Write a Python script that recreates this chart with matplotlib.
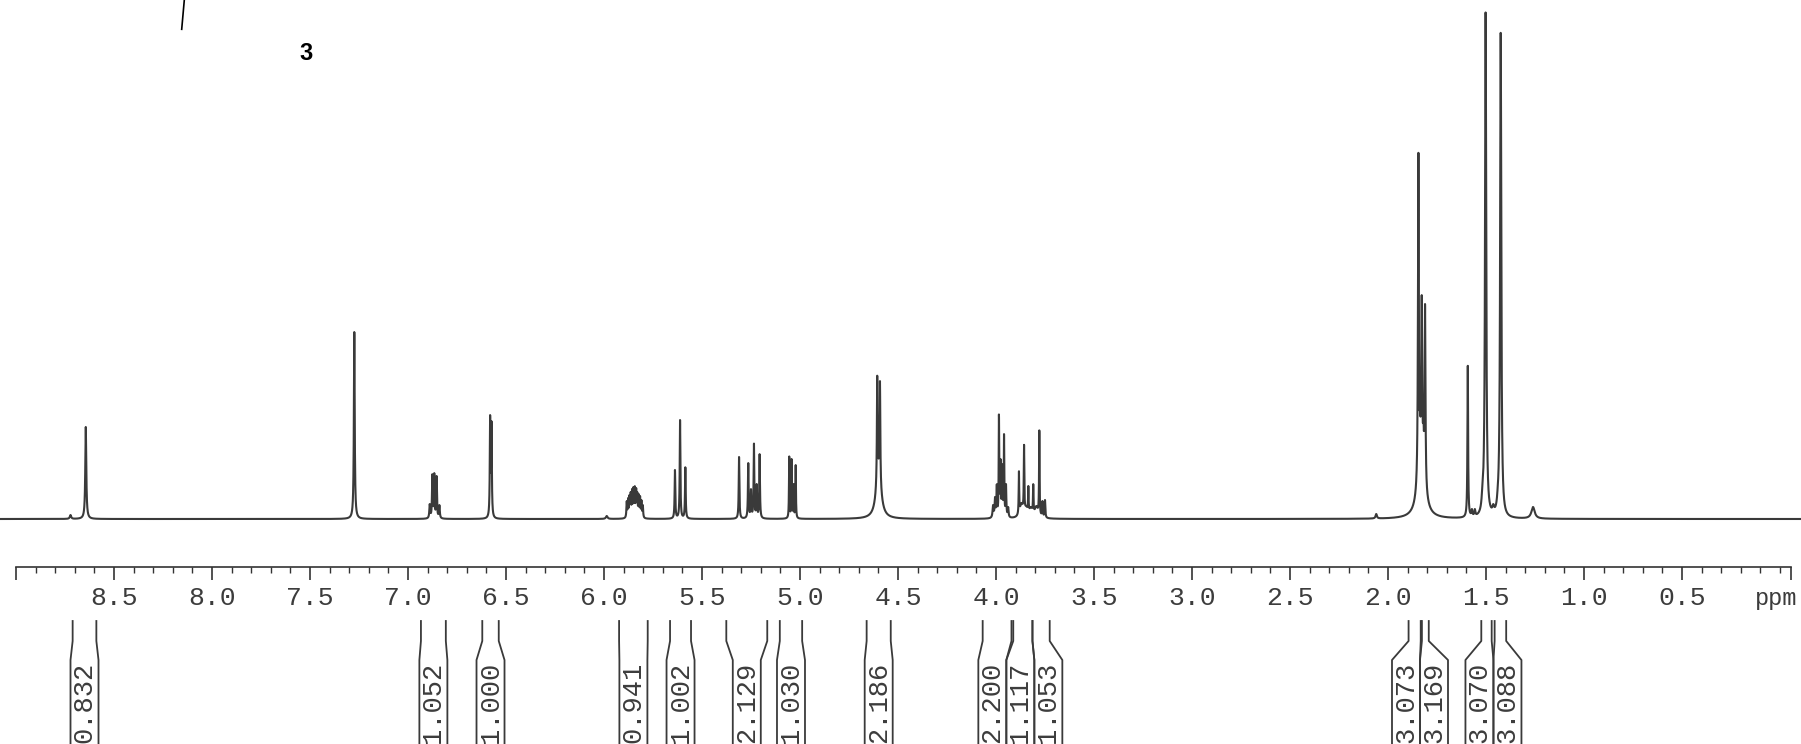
import numpy as np
import matplotlib
matplotlib.use("Agg")
import matplotlib.pyplot as plt
import matplotlib.transforms as mtransforms

# peak list: shift (ppm), height, full width at half height (ppm)
peak_ppm = [8.722, 8.644,
            7.274,
            6.889, 6.876, 6.866, 6.854, 6.840,
            6.581, 6.574,
            5.986,
            5.884, 5.877, 5.870, 5.864, 5.857, 5.850, 5.843, 5.836, 5.830, 5.823, 5.816, 5.809, 5.802,
            5.638, 5.612, 5.585,
            5.311, 5.264, 5.250, 5.235, 5.221, 5.206,
            5.055, 5.043, 5.033, 5.022,
            4.606, 4.592,
            4.015, 4.005, 3.996, 3.985, 3.977, 3.968, 3.959, 3.949, 3.938,
            3.883, 3.870, 3.857, 3.846, 3.835, 3.822, 3.810, 3.794, 3.779, 3.763, 3.750,
            2.060,
            1.845, 1.8365, 1.828, 1.8195, 1.811,
            1.593, 1.572, 1.557,
            1.518, 1.502, 1.463, 1.440, 1.425,
            1.260]
peak_height = [4, 92,
               187,
               15, 45, 46, 43, 14,
               104, 98,
               3,
               18, 21, 24, 27, 30, 32, 33, 31, 27, 25, 23, 19, 14,
               49, 99, 52,
               62, 56, 30, 76, 35, 65,
               63, 60, 35, 54,
               144, 138,
               14, 22, 35, 105, 60, 55, 85, 35, 12,
               48, 16, 75, 13, 33, 12, 35, 13, 89, 18, 19,
               5,
               368, 110, 224, 105, 215,
               154, 10, 10,
               35, 507, 15, 33, 487,
               12]
peak_width = [0.008, 0.006,
              0.005,
              0.005, 0.004, 0.004, 0.004, 0.005,
              0.004, 0.004,
              0.010,
              0.004, 0.004, 0.004, 0.004, 0.004, 0.004, 0.004, 0.004, 0.004, 0.004, 0.004, 0.004, 0.004,
              0.004, 0.004, 0.004,
              0.004, 0.004, 0.004, 0.004, 0.004, 0.004,
              0.003, 0.003, 0.003, 0.003,
              0.004, 0.004,
              0.006, 0.005, 0.004, 0.003, 0.004, 0.004, 0.003, 0.004, 0.005,
              0.003, 0.020, 0.003, 0.020, 0.003, 0.020, 0.003, 0.020, 0.003, 0.004, 0.004,
              0.008,
              0.005, 0.004, 0.005, 0.004, 0.005,
              0.004, 0.006, 0.006,
              0.010, 0.007, 0.010, 0.010, 0.007,
              0.020]

# broad humps under the sharp lines: shift (ppm), height, width (ppm)
base_ppm = [4.599, 1.830]
base_height = [45, 55]
base_width = [0.030, 0.040]

# integrals: region (ppm) and printed value
int_left = [8.711, 6.934, 6.621, 5.923, 5.663, 5.376, 5.103, 4.660,
            4.068, 3.912, 3.814, 1.895, 1.827, 1.524, 1.456]
int_right = [8.590, 6.807, 6.537, 5.777, 5.556, 5.167, 4.989, 4.537,
             3.921, 3.814, 3.726, 1.833, 1.792, 1.471, 1.397]
int_value = ['0.832', '1.052', '1.000', '0.941', '1.002', '2.129', '1.030', '2.186',
             '2.200', '1.117', '1.053', '3.073', '3.169', '3.070', '3.088']

tick_major = [8.5, 8.0, 7.5, 7.0, 6.5, 6.0, 5.5, 5.0, 4.5, 4.0, 3.5, 3.0, 2.5, 2.0, 1.5, 1.0, 0.5]
tick_labels = ['8.5', '8.0', '7.5', '7.0', '6.5', '6.0', '5.5', '5.0', '4.5',
               '4.0', '3.5', '3.0', '2.5', '2.0', '1.5', '1.0', '0.5']

W, H = 1801, 744
fig = plt.figure(figsize=(W / 100, H / 100), dpi=100)
fig.patch.set_facecolor('white')

# scan scale: 8.5 ppm sits at x=114 px, 196 px per ppm
x_left = 8.5 + 114 / 196
x_right = 8.5 - (W - 114) / 196


def lorentz(x, c, h, w):
    return h / (1 + ((x[:, None] - c[None, :]) / (w[None, :] / 2)) ** 2)


pos = np.array(peak_ppm)
hgt = np.array(peak_height, dtype=float)
wid = np.array(peak_width)
bpos, bhgt, bwid = np.array(base_ppm), np.array(base_height, float), np.array(base_width)

# line amplitudes solved so the tops (on top of the humps) match the read heights
M = lorentz(pos, pos, np.ones_like(pos), wid)
target = hgt - lorentz(pos, bpos, bhgt, bwid).sum(axis=1)
amp = np.clip(np.linalg.solve(M, target), 0, None)

ppm = np.linspace(x_left, x_right, 24000)
spec = lorentz(ppm, pos, amp, wid).sum(axis=1) + lorentz(ppm, bpos, bhgt, bwid).sum(axis=1)

ax = fig.add_axes([0, 0, 1, 1])
ax.set_xlim(x_left, x_right)
ax.set_ylim(-(H - 519), 519)
ax.axis('off')
ax.plot(ppm, spec, color='#3a3a3a', lw=1.5)

# ppm scale
ax_s = fig.add_axes([0, 1 - 567 / H, 1, 0.001])
ax_s.set_xlim(x_left, x_right)
ax_s.patch.set_visible(False)
for s in ['top', 'left', 'right']:
    ax_s.spines[s].set_visible(False)
ax_s.spines['bottom'].set_bounds(9.0, -0.055)
ax_s.spines['bottom'].set_linewidth(1.2)
ax_s.spines['bottom'].set_color('#333333')
ax_s.set_yticks([])
ax_s.set_xticks([9.0] + tick_major + [-0.055])
ax_s.set_xticks(np.round(np.arange(0, 9.01, 0.1), 1), minor=True)
ax_s.tick_params(which='major', length=9, width=1.2, color='#333333', labelbottom=False)
ax_s.tick_params(which='minor', length=4.5, width=1.0, color='#333333')

blend = mtransforms.blended_transform_factory(ax.transData, fig.transFigure)
mono = 'Liberation Mono'
for v, lab in zip(tick_major, tick_labels):
    ax.text(v, 1 - 598 / H, lab, transform=blend, ha='center', va='center',
            family=mono, fontsize=19, color='#3c3c3c')
ax.text(-0.087, 1 - 598 / H, 'ppm', transform=blend, ha='right', va='center',
        family=mono, fontsize=17, color='#3c3c3c')

# integral brackets, boxes pushed apart where they would overlap
box_w = 28 / 196
cen = (np.array(int_left) + np.array(int_right)) / 2
for _ in range(300):
    for i in range(len(cen) - 1):
        gap = cen[i] - cen[i + 1]
        if gap < box_w:
            d = (box_w - gap) / 2
            cen[i] += d
            cen[i + 1] -= d

ys = [1 - 621 / H, 1 - 641 / H, 1 - 660 / H, 0]
for l, r, c, val in zip(int_left, int_right, cen, int_value):
    bl, br = c + box_w / 2, c - box_w / 2
    ax.plot([l, l, bl, bl], ys, transform=blend, color='#3a3a3a', lw=1.3)
    ax.plot([r, r, br, br], ys, transform=blend, color='#3a3a3a', lw=1.3)
    ax.text(c, 1 - 662 / H, val, transform=blend, rotation=90, ha='center', va='top',
            family=mono, fontsize=19.5, color='#3c3c3c')

# compound number and the stray stroke at the top
fig.text(306 / W, 1 - 53 / H, '3', ha='center', va='center', fontsize=17,
         fontweight='bold', family='Liberation Sans', color='black')
ax.plot([184.3 / W, 181.7 / W], [1, 1 - 29.3 / H], transform=fig.transFigure,
        color='black', lw=1.2)

fig.savefig('out.png', dpi=100, facecolor='white')
